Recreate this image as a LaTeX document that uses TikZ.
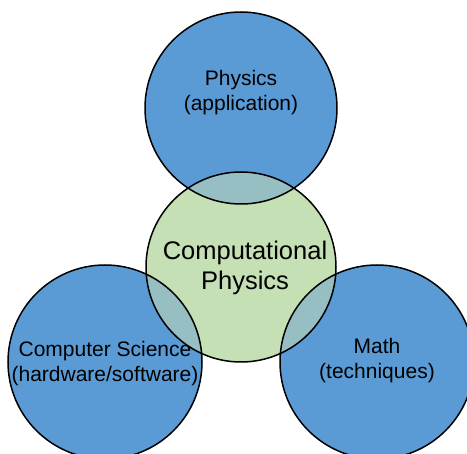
\documentclass[tikz,border=0pt]{standalone}
\usepackage{fontspec}
\setmainfont{Liberation Sans}
\definecolor{cblue}{RGB}{91,155,213}
\definecolor{cgreen}{RGB}{197,224,180}
\definecolor{cmix}{RGB}{150,190,195}
\begin{document}
\begin{tikzpicture}[x=1pt,y=-1pt,
  disc/.style={circle,inner sep=0pt,minimum size=#1},
  rim/.style={line width=1.5pt,draw=black},
  lbl/.style={align=center,font=\fontsize{21}{25}\selectfont},
  biglbl/.style={align=center,font=\fontsize{25.5}{30}\selectfont}]
\useasboundingbox (0,0) rectangle (467,454);
% discs
\node[disc=192pt,fill=cblue] (phys) at (241,108) {};
\node[disc=194pt,fill=cblue] (cs) at (105,362) {};
\node[disc=194pt,fill=cblue] (math) at (377,362) {};
\node[disc=190pt,fill=cgreen] (comp) at (241,267) {};
% overlaps
\begin{scope}
  \clip (comp.center) circle[radius=95pt];
  \fill[cmix] (phys.center) circle[radius=96pt];
  \fill[cmix] (cs.center) circle[radius=97pt];
  \fill[cmix] (math.center) circle[radius=97pt];
\end{scope}
% rims
\node[disc=192pt,rim] at (phys.center) {};
\node[disc=194pt,rim] at (cs.center) {};
\node[disc=194pt,rim] at (math.center) {};
\node[disc=190pt,rim] at (comp.center) {};
% labels
\node[lbl] (tphys) at (241,93) {Physics\\(application)};
\node[biglbl] (tcomp) at (245,268) {Computational\\Physics};
\node[lbl] (tcs) at (105,364) {Computer Science\\(hardware/software)};
\node[lbl] (tmath) at (377,361) {Math\\(techniques)};
\end{tikzpicture}
\end{document}
